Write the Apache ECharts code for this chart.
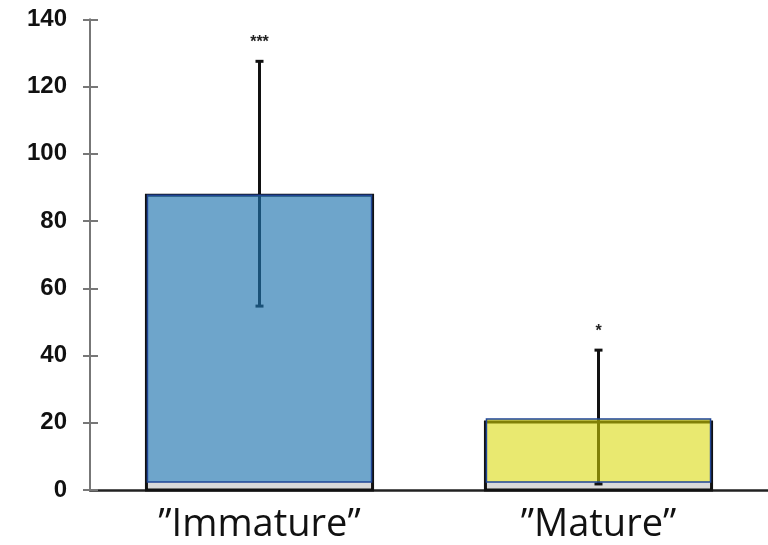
<!DOCTYPE html>
<html>
<head>
<meta charset="utf-8">
<script src="https://cdn.jsdelivr.net/npm/echarts@6/dist/echarts.min.js"></script>
<style>html,body{margin:0;padding:0;background:#fff}#c{width:768px;height:545px}</style>
</head>
<body>
<div id="c"></div>
<script>
var categories = ['”Immature”', '”Mature”'];
var means = [87.7, 20.2];
var boxTops = [87.7, 21.1];
var errUpper = [127.5, 41.6];
var errLower = [54.7, 1.8];
var sigLabels = ['***', '*'];
var yTicks = [0, 20, 40, 60, 80, 100, 120, 140];
var baseBand = 2.4;

var fills = ['rgba(33,117,175,0.65)', 'rgba(215,215,0,0.56)'];

var chart = echarts.init(document.getElementById('c'));
var data = categories.map(function (c, i) {
  return [i, means[i], boxTops[i], errLower[i], errUpper[i]];
});

chart.setOption({
  animation: false,
  grid: { left: 90, right: 0, top: 19.3, bottom: 55 },
  xAxis: {
    type: 'category',
    data: categories,
    axisLine: { lineStyle: { color: '#222', width: 2.5 } },
    axisTick: { show: false },
    axisLabel: { fontFamily: 'Open Sans', fontWeight: 400, fontSize: 38, color: '#111', margin: 16 }
  },
  yAxis: [{
    type: 'value', min: 0, max: 140, interval: 20,
    axisLine: { show: true, lineStyle: { color: '#777', width: 2 } },
    axisTick: { show: true, length: 7, lineStyle: { color: '#777', width: 2 } },
    splitLine: { show: false },
    axisLabel: { fontFamily: 'Liberation Sans', fontWeight: 'bold', fontSize: 24, color: '#111', margin: 23,
      formatter: function (v) { return yTicks.indexOf(v) >= 0 ? String(v) : ''; } }
  }, {
    type: 'value', min: 0, max: 140, interval: 20, position: 'left',
    axisLine: { show: false },
    axisTick: { show: true, inside: true, length: 8, lineStyle: { color: '#777', width: 2 } },
    splitLine: { show: false },
    axisLabel: { show: false }
  }],
  series: [{
    type: 'custom',
    data: data,
    encode: { x: 0, y: [1, 4] },
    renderItem: function (params, api) {
      var i = api.value(0);
      var base = api.coord([i, 0]);
      var band = api.size([1, 0])[0];
      var w = band * 0.667;
      var cx = base[0];
      var x0 = cx - w / 2;
      var y0 = base[1];
      var yMean = api.coord([i, api.value(1)])[1];
      var yBox = api.coord([i, api.value(2)])[1];
      var yLo = api.coord([i, api.value(3)])[1];
      var yHi = api.coord([i, api.value(4)])[1];
      var yBand = api.coord([i, baseBand])[1];
      var capW = 4;
      return {
        type: 'group',
        children: [
          { type: 'rect', shape: { x: x0, y: yBand, width: w, height: y0 - yBand },
            style: { fill: '#d9d9d9' } },
          { type: 'rect', shape: { x: x0, y: yMean, width: w, height: y0 - yMean },
            style: { fill: 'none', stroke: '#111', lineWidth: 3 } },
          { type: 'line', shape: { x1: cx, y1: yLo, x2: cx, y2: yHi }, style: { stroke: '#111', lineWidth: 3 } },
          { type: 'line', shape: { x1: cx - capW, y1: yHi, x2: cx + capW, y2: yHi }, style: { stroke: '#111', lineWidth: 3 } },
          { type: 'line', shape: { x1: cx - capW, y1: yLo, x2: cx + capW, y2: yLo }, style: { stroke: '#111', lineWidth: 3 } },
          { type: 'rect', shape: { x: x0 + 1, y: yBox, width: w - 2, height: yBand - yBox },
            style: { fill: fills[i], stroke: '#1f4596', lineWidth: 1.5 } },
          { type: 'text', style: { text: sigLabels[i], x: cx, y: yHi - 19, align: 'center', verticalAlign: 'middle',
            fontFamily: 'Liberation Sans', fontWeight: 'bold', fontSize: 16, fill: '#222' } }
        ]
      };
    }
  }]
});
</script>
</body>
</html>
